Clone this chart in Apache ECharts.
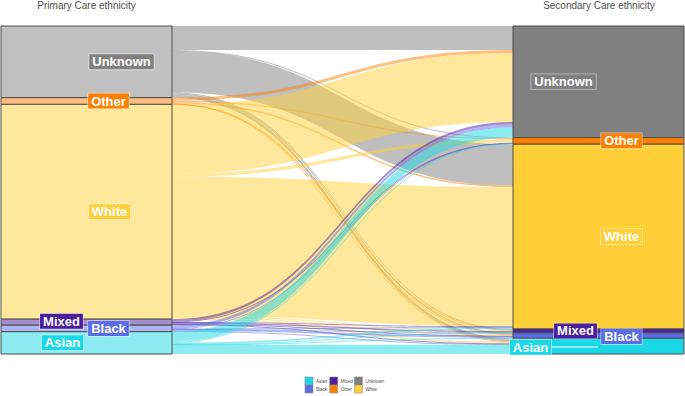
<!DOCTYPE html>
<html>
<head>
<meta charset="utf-8">
<script src="https://cdn.jsdelivr.net/npm/echarts@6/dist/echarts.min.js"></script>
<style>
  html, body { margin: 0; padding: 0; background: #fff; }
  #chart { width: 685px; height: 396px; }
</style>
</head>
<body>
<div id="chart"></div>
<script>
// ethnicity strata, top to bottom in both columns
const categories = ['Unknown', 'Other', 'White', 'Mixed', 'Black', 'Asian'];
const legendOrder = ['Asian', 'Black', 'Mixed', 'Other', 'Unknown', 'White'];

// patients per primary care ethnicity, split by secondary care ethnicity (same order as categories)
const fromUnknown = [240, 8, 415, 10, 14, 30];
const fromOther = [30, 12, 15, 2, 2, 5];
const fromWhite = [690, 32, 1390, 8, 12, 15];
const fromMixed = [25, 3, 6, 13, 4, 9];
const fromBlack = [30, 3, 6, 3, 17, 6];
const fromAsian = [100, 8, 15, 3, 5, 92];
const flows = [fromUnknown, fromOther, fromWhite, fromMixed, fromBlack, fromAsian];

const colors = {
    Unknown: '#808080',
    Other: '#FF7F00',
    White: '#FFCF38',
    Mixed: '#4A1E9E',
    Black: '#5B6DE6',
    Asian: '#1BD8E6'
};
// left column is the same colour at half strength
const lightColors = {
    Unknown: '#C0C0C0',
    Other: '#FFBF80',
    White: '#FFE79C',
    Mixed: '#A48ECF',
    Black: '#ADB6F3',
    Asian: '#8DEBF2'
};

// where the repelled labels sit, relative to the centre of their stratum
const leftOffsets = {
    Unknown: [35, 0], Other: [22, 0], White: [23, 0],
    Mixed: [-25, -1], Black: [22, 0], Asian: [-24, 0]
};
const rightOffsets = {
    Unknown: [-35, 0], Other: [23, 0], White: [23, 0],
    Mixed: [-23, 0], Black: [23, 1], Asian: [-68, 1]
};

const nodes = [];
categories.forEach(c => {
    nodes.push({
        name: 'P ' + c, depth: 0,
        itemStyle: { color: lightColors[c] },
        label: { offset: leftOffsets[c], backgroundColor: colors[c] }
    });
});
categories.forEach(c => {
    nodes.push({
        name: 'S ' + c, depth: 1,
        itemStyle: { color: colors[c] },
        label: { offset: rightOffsets[c], backgroundColor: colors[c] }
    });
});

const links = [];
flows.forEach((row, i) => {
    row.forEach((v, j) => {
        links.push({
            source: 'P ' + categories[i],
            target: 'S ' + categories[j],
            value: v,
            lineStyle: { color: colors[categories[i]], opacity: 0.5 }
        });
    });
});

// legend drawn by hand: 3 columns x 2 rows of small keys
const legendItems = [];
legendOrder.forEach((c, k) => {
    const col = Math.floor(k / 2);
    const row = k % 2;
    const x = 305 + col * 24.7;
    const y = 377 + row * 8;
    legendItems.push({
        type: 'rect',
        shape: { x: x, y: y, width: 8, height: 8 },
        style: { fill: colors[c], stroke: '#8c8c8c', lineWidth: 0.6 }
    });
    legendItems.push({
        type: 'text',
        x: x + 11, y: y + 4,
        style: { text: c, fill: '#4d4d4d', font: '4.5px "Liberation Sans"', verticalAlign: 'middle' }
    });
});

const chart = echarts.init(document.getElementById('chart'), null, { renderer: 'svg' });

const option = {
    animation: false,
    textStyle: { fontFamily: 'Liberation Sans' },
    graphic: [
        {
            type: 'text', x: 86.5, y: 5,
            style: { text: 'Primary Care ethnicity', fill: '#4d4d4d', font: '10px "Liberation Sans"', align: 'center', verticalAlign: 'middle' }
        },
        {
            type: 'text', x: 599, y: 5,
            style: { text: 'Secondary Care ethnicity', fill: '#4d4d4d', font: '10px "Liberation Sans"', align: 'center', verticalAlign: 'middle' }
        },
        {
            type: 'line', z: 100,
            shape: { x1: 551, y1: 347, x2: 598, y2: 347 },
            style: { stroke: '#ffffff', lineWidth: 1 }
        }
    ].concat(legendItems),
    series: [
        {
            type: 'sankey',
            left: 1,
            right: 1,
            top: 26,
            bottom: 42,
            nodeWidth: 171,
            nodeGap: 0,
            layoutIterations: 0,
            draggable: false,
            emphasis: { disabled: true },
            itemStyle: { borderColor: '#4d4d4d', borderWidth: 1 },
            lineStyle: { curveness: 0.5 },
            label: {
                show: true,
                position: 'inside',
                color: '#fff',
                fontWeight: 'bold',
                fontSize: 13,
                lineHeight: 13,
                fontFamily: 'Liberation Sans',
                padding: [1, 3],
                borderColor: 'rgba(255,255,255,0.55)',
                borderWidth: 0.8,
                formatter: p => p.name.slice(2)
            },
            data: nodes,
            links: links
        }
    ]
};

chart.setOption(option);
</script>
</body>
</html>
